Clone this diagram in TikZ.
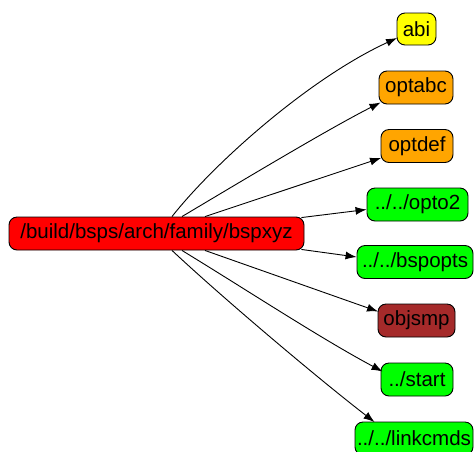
\documentclass[tikz,border=0pt]{standalone}
\usepackage{fontspec}
\setmainfont{Liberation Sans}
\usetikzlibrary{arrows.meta}
\definecolor{gvorange}{HTML}{FFA500}
\definecolor{gvbrown}{HTML}{A52A2A}
\definecolor{gvgreen}{HTML}{00FF00}
\definecolor{gvred}{HTML}{FF0000}
\definecolor{gvyellow}{HTML}{FFFF00}
\begin{document}
\begin{tikzpicture}[x=1pt,y=-1pt,
  box/.style={draw=black, line width=0.9pt, rounded corners=8pt, minimum height=33pt,
    inner sep=0pt, font=\fontsize{20.5}{23}\selectfont, text=black, anchor=center},
  edge/.style={draw=black, line width=0.9pt, -{Latex[length=11pt,width=8pt]}}]
\useasboundingbox (0,0) rectangle (474,451);
\node[box, fill=gvred, minimum width=295pt] (root) at (156.5,233.5) {/build/bsps/arch/family/bspxyz};
\node[box, fill=gvyellow, minimum width=39pt, minimum height=32pt] (abi) at (416.5,29) {abi};
\node[box, fill=gvorange, minimum width=74pt] (optabc) at (416,87.5) {optabc};
\node[box, fill=gvorange, minimum width=72pt] (optdef) at (417,146) {optdef};
\node[box, fill=gvgreen, minimum width=101pt] (opto2) at (417.5,204.5) {../../opto2};
\node[box, fill=gvgreen, minimum width=116pt] (bspopts) at (415,262) {../../bspopts};
\node[box, fill=gvbrown, minimum width=77pt] (objsmp) at (416.5,320.5) {objsmp};
\node[box, fill=gvgreen, minimum width=72pt] (start) at (417,379.5) {../start};
\node[box, fill=gvgreen, minimum width=118pt] (linkcmds) at (414,438.5) {../../linkcmds};
\path[edge] ([xshift=15.5pt]root.north) .. controls (215,162) and (310,78) .. ([xshift=0.5pt,yshift=-9pt]abi.west);
\path[edge] ([xshift=25.5pt]root.north) .. controls (240,182) and (330,128) .. ([xshift=2pt,yshift=-15pt]optabc.west);
\path[edge] ([xshift=48.5pt]root.north) -- ([xshift=0.5pt,yshift=-12pt]optdef.west);
\path[edge] ([xshift=-3pt,yshift=-1pt]root.north east) -- ([yshift=-5pt]opto2.west);
\path[edge] ([xshift=-3pt,yshift=1pt]root.south east) -- ([yshift=5pt]bspopts.west);
\path[edge] ([xshift=48.5pt]root.south) -- ([xshift=0.5pt,yshift=9pt]objsmp.west);
\path[edge] ([xshift=25.5pt]root.south) .. controls (250,292) and (320,338) .. ([xshift=2pt,yshift=8pt]start.west);
\path[edge] ([xshift=15.5pt]root.south) .. controls (225,300) and (320,380) .. ([xshift=20pt,yshift=-0.5pt]linkcmds.north west);
\end{tikzpicture}
\end{document}
